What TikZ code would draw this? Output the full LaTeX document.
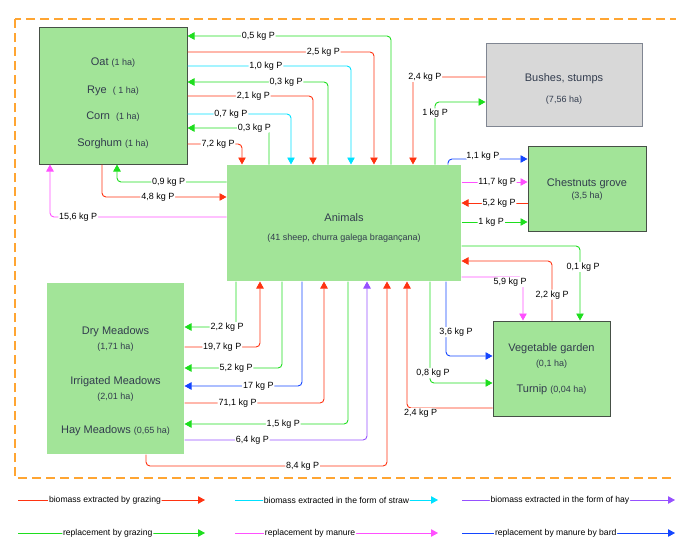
\documentclass[tikz,border=0pt]{standalone}
\usepackage{fontspec}
\setmainfont{Liberation Sans}
\usetikzlibrary{arrows.meta}

\definecolor{fieldgreen}{RGB}{162,228,152}
\definecolor{fieldedge}{RGB}{70,80,70}
\definecolor{bushgray}{RGB}{216,216,216}
\definecolor{bushedge}{RGB}{128,134,146}
\definecolor{boxtext}{RGB}{50,60,78}
\definecolor{borderorange}{RGB}{255,165,50}
\definecolor{cRed}{RGB}{255,51,17}
\definecolor{cGreen}{RGB}{30,222,30}
\definecolor{cCyan}{RGB}{0,225,255}
\definecolor{cViolet}{RGB}{150,80,255}
\definecolor{cMagenta}{RGB}{255,80,255}
\definecolor{cBlue}{RGB}{20,70,255}

\newcommand{\hasize}[1]{{\fontsize{9}{10}\selectfont #1}}

\tikzset{
	field/.style={draw=fieldedge, line width=1pt, fill=fieldgreen, inner sep=0pt},
	txt/.style={text=boxtext, font=\fontsize{11}{12}\selectfont, inner sep=0pt},
	lbl/.style={fill=white, inner sep=0.8pt, font=\fontsize{9}{10}\selectfont},
	legtxt/.style={fill=white, inner sep=0.8pt, font=\fontsize{8.6}{10}\selectfont},
	flow/.style={draw=#1, line width=0.9pt, rounded corners=4pt, -{Triangle[length=7pt,width=7.5pt]}},
	grazing/.style={flow=cRed},
	straw/.style={flow=cCyan},
	hay/.style={flow=cViolet},
	regraze/.style={flow=cGreen},
	manure/.style={flow=cMagenta},
	bard/.style={flow=cBlue}
}

\begin{document}
\begin{tikzpicture}[x=1pt,y=-1pt]
	\useasboundingbox (0,0) rectangle (676,541);
	
	%farm limit
	\draw[borderorange, line width=1.5pt, dash pattern=on 9pt off 5pt] (15,19) rectangle (700,478);
	
	%boxes
	\node[field, minimum width=148pt, minimum height=137pt] (cereals) at (113,95.5) {};
	\node[field, draw=none, minimum width=234pt, minimum height=116pt] (animals) at (344,223) {};
	\node[field, draw=bushedge, fill=bushgray, minimum width=156pt, minimum height=83pt] (bushes) at (564,84.5) {};
	\node[field, minimum width=118pt, minimum height=85pt] (chestnut) at (587,188.5) {};
	\node[field, draw=none, minimum width=137pt, minimum height=171pt] (meadows) at (115.5,368.5) {};
	\node[field, minimum width=117pt, minimum height=95pt] (garden) at (551.5,368.5) {};
	
	%box texts
	\node[txt] (oat) at (113,63) {Oat \hasize{(1 ha)}};
	\node[txt] (rye) at (113,91) {Rye \ \hasize{( 1 ha)}};
	\node[txt] (corn) at (113,117) {Corn \ \hasize{(1 ha)}};
	\node[txt] (sorghum) at (113,144) {Sorghum \hasize{(1 ha)}};
	\node[txt] (anim) at (344,218) {Animals};
	\node[txt] (sheep) at (344,238) {\hasize{(41 sheep, churra galega bragançana)}};
	\node[txt] (bush) at (564,79) {Bushes, stumps};
	\node[txt] (bushha) at (564,100) {\hasize{(7,56 ha)}};
	\node[txt] (grove) at (587,184) {Chestnuts grove};
	\node[txt] (groveha) at (587,196) {\hasize{(3,5 ha)}};
	\node[txt] (dry) at (115.5,332) {Dry Meadows};
	\node[txt] (dryha) at (115.5,347) {\hasize{(1,71 ha)}};
	\node[txt] (irr) at (115.5,382) {Irrigated Meadows};
	\node[txt] (irrha) at (115.5,397) {\hasize{(2,01 ha)}};
	\node[txt] (hay) at (115.5,431) {Hay Meadows \hasize{(0,65 ha)}};
	\node[txt] (veg) at (551.5,349) {Vegetable garden};
	\node[txt] (vegha) at (551.5,364) {\hasize{(0,1 ha)}};
	\node[txt] (turnip) at (551.5,390) {Turnip \hasize{(0,04 ha)}};
	
	%cereals <-> animals
	\draw[regraze] (animals.north -| 391,0) |- node[lbl,pos=0.826]{0,5 kg P} (cereals.east |- 0,36);
	\draw[grazing] (cereals.east |- 0,52) -| node[lbl,pos=0.364]{2,5 kg P} (animals.north -| 374,0);
	\draw[straw] (cereals.east |- 0,66) -| node[lbl,pos=0.24]{1,0 kg P} (animals.north -| 351,0);
	\draw[regraze] (animals.north -| 328,0) |- node[lbl,pos=0.649]{0,3 kg P} (cereals.east |- 0,82);
	\draw[grazing] (cereals.east |- 0,96) -| node[lbl,pos=0.262]{2,1 kg P} (animals.north -| 313,0);
	\draw[straw] (cereals.east |- 0,114) -| node[lbl,pos=0.21]{0,7 kg P} (animals.north -| 291,0);
	\draw[regraze] (animals.north -| 269,0) |- node[lbl,pos=0.59]{0,3 kg P} (cereals.east |- 0,128);
	\draw[grazing] (cereals.east |- 0,144) -| node[lbl,pos=0.28]{7,2 kg P} (animals.north -| 242,0);
	\draw[regraze] (animals.west |- 0,182) -| node[lbl,pos=0.264]{0,9 kg P} (cereals.south -| 117,0);
	\draw[grazing] (cereals.south -| 102,0) |- node[lbl,pos=0.724]{4,8 kg P} (animals.west |- 0,197);
	\draw[manure] (animals.west |- 0,217) -| node[lbl,pos=0.42]{15,6 kg P} (cereals.south -| 50,0);
	
	%bushes
	\draw[grazing] (bushes.west |- 0,77) -| node[lbl,pos=0.418]{2,4 kg P} (animals.north -| 413,0);
	\draw[regraze] (animals.north -| 435,0) |- node[lbl,pos=0.41]{1 kg P} (bushes.west |- 0,102);
	
	%chestnuts
	\draw[bard] (animals.north -| 448,0) |- node[lbl,pos=0.72,yshift=3pt]{1,1 kg P} (chestnut.west |- 0,159);
	\draw[manure] (animals.east |- 0,182) -- node[lbl,pos=0.54]{11,7 kg P} (chestnut.west |- 0,182);
	\draw[grazing] (chestnut.west |- 0,203) -- node[lbl,pos=0.43]{5,2 kg P} (animals.east |- 0,203);
	\draw[regraze] (animals.east |- 0,222) -- node[lbl,pos=0.45]{1 kg P} (chestnut.west |- 0,222);
	
	%garden
	\draw[regraze] (animals.east |- 0,246) -| node[lbl,pos=0.64,xshift=3pt]{0,1 kg P} (garden.north -| 580,0);
	\draw[grazing] (garden.north -| 552,0) |- node[lbl,pos=0.217]{2,2 kg P} (animals.east |- 0,261);
	\draw[manure] (animals.east |- 0,277) -| node[lbl,pos=0.395,yshift=-5pt]{5,9 kg P} (garden.north -| 523,0);
	\draw[bard] (animals.south -| 446,0) |- node[lbl,pos=0.34,xshift=10pt]{3,6 kg P} (garden.west |- 0,356);
	\draw[regraze] (animals.south -| 430,0) |- node[lbl,pos=0.45,xshift=3pt]{0,8 kg P} (garden.west |- 0,383);
	\draw[grazing] (garden.west |- 0,408) -| node[lbl,pos=0.42,yshift=-5pt]{2,4 kg P} (animals.south -| 407,0);
	
	%meadows
	\draw[regraze] (animals.south -| 236,0) |- node[lbl,pos=0.587]{2,2 kg P} (meadows.east |- 0,327);
	\draw[grazing] (meadows.east |- 0,347) -| node[lbl,pos=0.25]{19,7 kg P} (animals.south -| 260,0);
	\draw[regraze] (animals.south -| 282,0) |- node[lbl,pos=0.735]{5,2 kg P} (meadows.east |- 0,368);
	\draw[bard] (animals.south -| 302,0) |- node[lbl,pos=0.686]{17 kg P} (meadows.east |- 0,386);
	\draw[grazing] (meadows.east |- 0,403) -| node[lbl,pos=0.19]{71,1 kg P} (animals.south -| 324,0);
	\draw[regraze] (animals.south -| 348,0) |- node[lbl,pos=0.698]{1,5 kg P} (meadows.east |- 0,424);
	\draw[hay] (meadows.east |- 0,440) -| node[lbl,pos=0.186]{6,4 kg P} (animals.south -| 367,0);
	\draw[grazing] (meadows.south -| 146,0) |- node[lbl,pos=0.825]{8,4 kg P} (387,466) -- (animals.south -| 387,0);
	
	%legend
	\foreach \xa/\xb/\yy/\sty/\p/\txt [count=\i] in {
		18/205/500/grazing/0.465/biomass extracted by grazing,
		235/438/500/straw/0.5/biomass extracted in the form of straw,
		462/675/500/hay/0.46/biomass extracted in the form of hay,
		18/205/533/regraze/0.48/replacement by grazing,
		235/438/533/manure/0.37/replacement by manure,
		462/675/533/bard/0.44/replacement by manure by bard}{
		\coordinate (lgs\i) at (\xa,\yy);
		\coordinate (lge\i) at (\xb,\yy);
		\draw[\sty] (lgs\i) -- node[legtxt,pos=\p]{\txt} (lge\i);
	}
\end{tikzpicture}
\end{document}
